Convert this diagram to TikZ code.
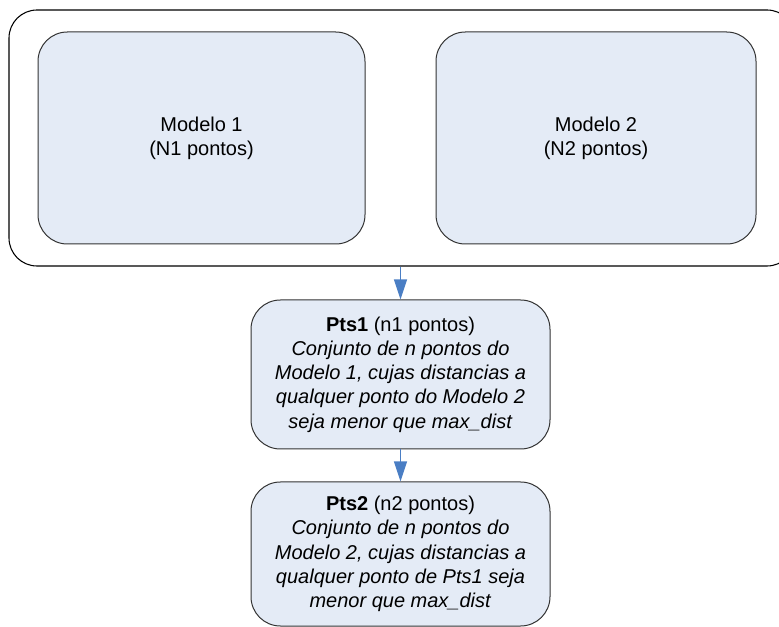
\documentclass[tikz,border=0pt]{standalone}
\usepackage{fontspec}
\setmainfont{Liberation Sans}
\usetikzlibrary{arrows.meta}
\definecolor{boxfill}{RGB}{228,235,246}
\definecolor{arrowblue}{RGB}{74,126,196}
\begin{document}
\begin{tikzpicture}[x=0.75pt,y=-0.75pt,
  frame/.style={draw=black, line width=0.8pt, rounded corners=21pt, inner sep=0pt},
  box/.style={draw=black!80, fill=boxfill, line width=0.75pt, rounded corners=22pt,
    inner sep=0pt, align=center, font=\fontsize{15}{18.2}\selectfont},
  flow/.style={draw=arrowblue, line width=0.8pt, -{Triangle[width=9.75pt,length=15pt]}}]
\useasboundingbox (0,0) rectangle (779,627);
\clip (0,0) rectangle (779,627);
% outer group frame
\node[frame, minimum width=589.5pt, minimum height=192pt] (grp) at (402,138) {};
% the two models
\node[box, minimum width=245.25pt, minimum height=159pt] (m1) at (201.5,138)
  {Modelo 1\\(N1 pontos)};
\node[box, minimum width=240pt, minimum height=159pt] (m2) at (596,138)
  {Modelo 2\\(N2 pontos)};
% selected point sets
\node[box, minimum width=224.25pt, minimum height=111.75pt] (p1) at (400.5,374.5)
  {\textbf{Pts1} (n1 pontos)\\
   \textit{Conjunto de n pontos do}\\
   \textit{Modelo 1, cujas distancias a}\\
   \textit{qualquer ponto do Modelo 2}\\
   \textit{seja menor que max\_dist}};
\node[box, minimum width=224.25pt, minimum height=108pt] (p2) at (400.5,554)
  {\textbf{Pts2} (n2 pontos)\\
   \textit{Conjunto de n pontos do}\\
   \textit{Modelo 2, cujas distancias a}\\
   \textit{qualquer ponto de Pts1 seja}\\
   \textit{menor que max\_dist}};
% flow arrows
\draw[flow] (p1.north |- grp.south) -- (p1.north);
\draw[flow] (p1.south) -- (p2.north);
\end{tikzpicture}
\end{document}
